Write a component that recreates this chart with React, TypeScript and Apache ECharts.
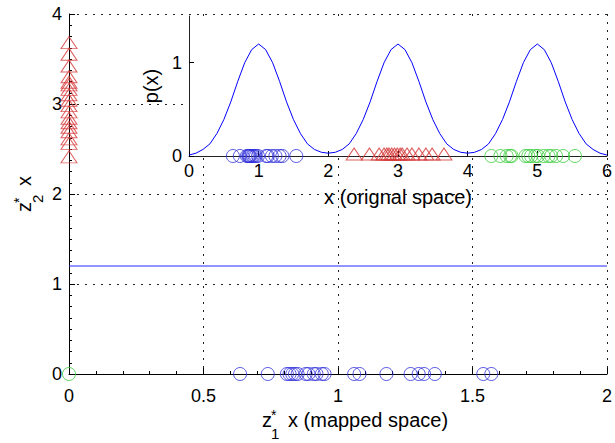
import React, { useEffect, useRef } from "react";
import * as echarts from "echarts";

// ---- data ----
// main axes: mapped space
const MAIN_BLUE_X = [0.636, 0.739, 0.81, 0.82, 0.83, 0.84, 0.85, 0.88, 0.89, 0.91, 0.92, 0.94, 0.95, 1.06, 1.08, 1.18, 1.27, 1.3, 1.32, 1.36, 1.54, 1.57];
const MAIN_RED_Y = [3.66, 3.53, 3.4, 3.28, 3.22, 3.19, 3.14, 3.08, 3.02, 2.96, 2.89, 2.82, 2.77, 2.72, 2.67, 2.59, 2.54, 2.39];
const MAIN_GREEN = [[0, 0]];
const MAIN_LINE_Y = 1.2;
const MAIN_X_RANGE = [0, 2];
const MAIN_Y_RANGE = [0, 4];

// inset axes: original space
const INSET_BLUE_X = [0.63, 0.73, 0.83, 0.85, 0.86, 0.87, 0.88, 0.9, 0.92, 0.94, 0.96, 0.99, 1.11, 1.13, 1.19, 1.24, 1.3, 1.34, 1.54];
const INSET_RED_X = [2.37, 2.59, 2.73, 2.8, 2.84, 2.87, 2.91, 2.95, 2.99, 3.03, 3.06, 3.13, 3.2, 3.3, 3.4, 3.49, 3.66];
const INSET_GREEN_X = [4.34, 4.47, 4.56, 4.61, 4.63, 4.83, 4.87, 4.91, 4.97, 5.01, 5.09, 5.16, 5.2, 5.27, 5.37, 5.54];
// p(x) sampled every 0.1 from 0 to 6
const CURVE_Y = [
  0.01, 0.03, 0.07, 0.13, 0.24, 0.39, 0.58, 0.8, 1.0, 1.14,
  1.2, 1.14, 1.0, 0.8, 0.58, 0.39, 0.24, 0.13, 0.07, 0.04,
  0.03, 0.04, 0.07, 0.13, 0.24, 0.39, 0.58, 0.8, 1.0, 1.14,
  1.2, 1.14, 1.0, 0.8, 0.58, 0.39, 0.24, 0.13, 0.07, 0.04,
  0.03, 0.04, 0.07, 0.13, 0.24, 0.39, 0.58, 0.8, 1.0, 1.14,
  1.2, 1.14, 1.0, 0.8, 0.58, 0.39, 0.24, 0.13, 0.07, 0.03,
  0.01,
];
const CURVE_STEP = 0.1;
const INSET_X_RANGE = [0, 6];
const INSET_Y_RANGE = [0, 1.5];
const INSET_Y_TICKS = [0, 1];

const FONT = '"Liberation Sans", Arial, Helvetica, sans-serif';
const BLUE_MK = "#3030dc";
const RED_MK = "#d43838";
const GREEN_MK = "#38cc38";

function txt(text: string, x: number, y: number, size: number) {
  return {
    type: "text",
    x,
    y,
    style: {
      text,
      font: `${size}px ${FONT}`,
      fill: "#000",
      align: "left",
      verticalAlign: "middle",
      textAlign: "left",
      textVerticalAlign: "middle",
    },
  };
}

export default function App() {
  const ref = useRef<HTMLDivElement>(null);
  useEffect(() => {
    if (!ref.current) return;
    const chart = echarts.init(ref.current, null, { renderer: "svg" });
    const axisLabel = { color: "#000", fontSize: 18, fontFamily: FONT };
    const dotted = { show: true, lineStyle: { color: "#222", width: 1, type: [2, 6] as any } };
    const emptyMarker = (c: string) => ({ color: "rgba(0,0,0,0)", borderColor: c, borderWidth: 1 });

    const option: any = {
      animation: false,
      backgroundColor: "#fff",
      textStyle: { fontFamily: FONT },
      grid: [
        { left: 69, top: 14, width: 543, height: 360, z: 0 },
        { left: 189, top: 16, width: 420, height: 140, show: true, backgroundColor: "#fff", borderWidth: 0, z: 1 },
      ],
      xAxis: [
        {
          gridIndex: 0, type: "value", min: MAIN_X_RANGE[0], max: MAIN_X_RANGE[1], interval: 0.5, z: 0,
          axisLine: { show: true, onZero: false, lineStyle: { color: "#000", width: 1 } },
          axisTick: { show: true, inside: true, length: 6, lineStyle: { color: "#000" } },
          minorTick: { show: true, splitNumber: 5, length: 3, lineStyle: { color: "#000" } },
          axisLabel: { ...axisLabel, margin: 13 },
          splitLine: dotted,
        },
        {
          gridIndex: 1, type: "value", min: INSET_X_RANGE[0], max: INSET_X_RANGE[1], interval: 1, z: 3,
          axisLine: { show: true, onZero: false, lineStyle: { color: "#222", width: 1 } },
          axisTick: { show: true, inside: true, length: 5, lineStyle: { color: "#000" } },
          axisLabel: { ...axisLabel, margin: 6 },
          splitLine: { show: false },
          name: "x (orignal space)", nameLocation: "middle", nameGap: 31,
          nameTextStyle: { color: "#000", fontSize: 20, fontFamily: FONT },
        },
      ],
      yAxis: [
        {
          gridIndex: 0, type: "value", min: MAIN_Y_RANGE[0], max: MAIN_Y_RANGE[1], interval: 1, z: 0,
          axisLine: { show: true, onZero: false, lineStyle: { color: "#000", width: 1 } },
          axisTick: { show: true, inside: true, length: 6, lineStyle: { color: "#000" } },
          minorTick: { show: true, splitNumber: 8, length: 3, lineStyle: { color: "#000" } },
          axisLabel: { ...axisLabel, margin: 7 },
          splitLine: dotted,
        },
        {
          gridIndex: 1, type: "value", min: INSET_Y_RANGE[0], max: INSET_Y_RANGE[1], interval: 1, z: 3,
          axisLine: { show: true, onZero: false, lineStyle: { color: "#222", width: 1 } },
          axisTick: { show: true, inside: true, length: 5, customValues: INSET_Y_TICKS, lineStyle: { color: "#000" } },
          axisLabel: { ...axisLabel, margin: 7, customValues: INSET_Y_TICKS },
          splitLine: { show: false },
          name: "p(x)", nameLocation: "middle", nameGap: 21, nameRotate: 90,
          nameTextStyle: { color: "#000", fontSize: 20, fontFamily: FONT },
        },
      ],
      series: [
        {
          type: "line", xAxisIndex: 0, yAxisIndex: 0, z: 2,
          data: [[MAIN_X_RANGE[0], MAIN_LINE_Y], [MAIN_X_RANGE[1], MAIN_LINE_Y]],
          showSymbol: false, lineStyle: { color: "#2a2aff", width: 1 },
        },
        {
          type: "scatter", xAxisIndex: 0, yAxisIndex: 0, z: 3,
          data: MAIN_BLUE_X.map((x) => [x, 0]),
          symbol: "circle", symbolSize: 13, itemStyle: emptyMarker(BLUE_MK),
        },
        {
          type: "scatter", xAxisIndex: 0, yAxisIndex: 0, z: 3,
          data: MAIN_RED_Y.map((y) => [0, y]),
          symbol: "triangle", symbolSize: [16, 12], symbolOffset: [0, -2], itemStyle: emptyMarker(RED_MK),
        },
        {
          type: "scatter", xAxisIndex: 0, yAxisIndex: 0, z: 3,
          data: MAIN_GREEN,
          symbol: "circle", symbolSize: 13, itemStyle: emptyMarker(GREEN_MK),
        },
        {
          type: "line", xAxisIndex: 1, yAxisIndex: 1, z: 4,
          data: CURVE_Y.map((y, i) => [Math.round(i * CURVE_STEP * 10) / 10, y]),
          showSymbol: false, lineStyle: { color: "#0000ff", width: 1 },
        },
        {
          type: "scatter", xAxisIndex: 1, yAxisIndex: 1, z: 5,
          data: INSET_BLUE_X.map((x) => [x, 0]),
          symbol: "circle", symbolSize: 13, itemStyle: emptyMarker(BLUE_MK),
        },
        {
          type: "scatter", xAxisIndex: 1, yAxisIndex: 1, z: 5,
          data: INSET_RED_X.map((x) => [x, 0]),
          symbol: "triangle", symbolSize: [16, 12], symbolOffset: [0, -2], itemStyle: emptyMarker(RED_MK),
        },
        {
          type: "scatter", xAxisIndex: 1, yAxisIndex: 1, z: 5,
          data: INSET_GREEN_X.map((x) => [x, 0]),
          symbol: "circle", symbolSize: 13, itemStyle: emptyMarker(GREEN_MK),
        },
      ],
      graphic: [
        {
          type: "group", x: 262, y: 420,
          children: [txt("z", 0, 0, 20), txt("*", 9, -5, 14), txt("1", 9, 13, 15), txt("x (mapped space)", 26, 0, 20)],
        },
        {
          type: "group", x: 24, y: 212, rotation: Math.PI / 2,
          children: [txt("z", 0, 0, 20), txt("*", 9, -5, 14), txt("2", 9, 13, 15), txt("x", 26, 0, 20)],
        },
      ],
    };
    chart.setOption(option);
    return () => chart.dispose();
  }, []);
  return <div ref={ref} style={{ position: "absolute", left: 0, top: 0, width: 615, height: 443 }} />;
}
